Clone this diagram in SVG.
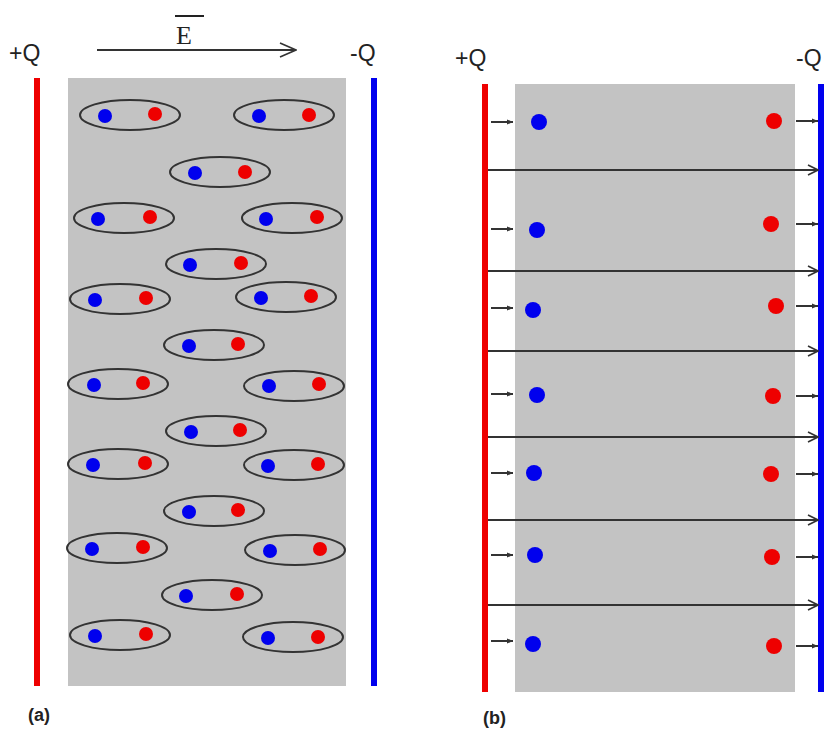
<svg xmlns="http://www.w3.org/2000/svg" width="827" height="731" viewBox="0 0 827 731">
<defs>
<style>
.lbl{font-family:"Liberation Sans",Arial,sans-serif;font-size:23px;fill:#222}
.cap{font-family:"Liberation Sans",Arial,sans-serif;font-size:18px;font-weight:bold;fill:#222}
.ell{fill:none;stroke:#333;stroke-width:2}
.b{fill:#0000ee}
.r{fill:#ee0000}
.ln{stroke:#333;stroke-width:2;fill:none}
</style>
<marker id="op" viewBox="0 0 12 12" refX="11" refY="6" markerWidth="12" markerHeight="12" markerUnits="userSpaceOnUse" orient="auto"><path d="M1,1 L11,6 L1,11" fill="none" stroke="#333" stroke-width="1.6"/></marker>
<marker id="sm" viewBox="0 0 8 8" refX="7" refY="4" markerWidth="7" markerHeight="7" markerUnits="userSpaceOnUse" orient="auto"><path d="M0,1 L7,4 L0,7 Z" fill="#333"/></marker>
<marker id="big" viewBox="0 0 20 20" refX="19" refY="10" markerWidth="20" markerHeight="20" markerUnits="userSpaceOnUse" orient="auto"><path d="M3,3 L19,10 L3,17" fill="none" stroke="#333" stroke-width="1.6"/></marker>
</defs>
<rect width="827" height="731" fill="#fff"/>
<g id="panel-a">
<rect x="68" y="78" width="278" height="608" fill="#c3c3c3"/>
<line x1="37" y1="78" x2="37" y2="686" stroke="#ee0000" stroke-width="6"/>
<line x1="374" y1="78" x2="374" y2="686" stroke="#0000ee" stroke-width="6"/>
<text class="lbl" x="9" y="61">+Q</text>
<text class="lbl" x="350" y="61">-Q</text>
<text x="176" y="44" style="font-family:'Liberation Serif',serif;font-size:26px;fill:#222">E</text>
<line x1="175" y1="16" x2="204" y2="16" stroke="#222" stroke-width="2"/>
<text class="cap" x="28" y="721">(a)</text>
</g>
<g id="panel-b">
<rect x="515" y="84" width="280" height="608" fill="#c3c3c3"/>
<line x1="485" y1="84" x2="485" y2="692" stroke="#ee0000" stroke-width="6"/>
<line x1="821" y1="84" x2="821" y2="692" stroke="#0000ee" stroke-width="6"/>
<text class="lbl" x="455" y="66">+Q</text>
<text class="lbl" x="796" y="66">-Q</text>
<text class="cap" x="483" y="724">(b)</text>
<g id="charges-b">
<circle class="b" cx="539" cy="122" r="8"/><circle class="r" cx="774" cy="121" r="8"/>
<circle class="b" cx="537" cy="230" r="8"/><circle class="r" cx="771" cy="224" r="8"/>
<circle class="b" cx="533" cy="310" r="8"/><circle class="r" cx="776" cy="306" r="8"/>
<circle class="b" cx="537" cy="395" r="8"/><circle class="r" cx="773" cy="396" r="8"/>
<circle class="b" cx="534" cy="473" r="8"/><circle class="r" cx="771" cy="474" r="8"/>
<circle class="b" cx="535" cy="555" r="8"/><circle class="r" cx="772" cy="557" r="8"/>
<circle class="b" cx="533" cy="644" r="8"/><circle class="r" cx="774" cy="646" r="8"/>
</g>
</g>
<g id="dipoles">
<g id="d1"><ellipse class="ell" cx="130" cy="115" rx="50" ry="15"/><circle class="b" cx="105" cy="116" r="7"/><circle class="r" cx="155" cy="114" r="7"/></g>
<g id="d2"><ellipse class="ell" cx="284" cy="115" rx="50" ry="15"/><circle class="b" cx="259" cy="116" r="7"/><circle class="r" cx="309" cy="115" r="7"/></g>
<g id="d3"><ellipse class="ell" cx="220" cy="172" rx="50" ry="15"/><circle class="b" cx="195" cy="173" r="7"/><circle class="r" cx="245" cy="172" r="7"/></g>
<g id="d4"><ellipse class="ell" cx="124" cy="218" rx="50" ry="15"/><circle class="b" cx="98" cy="219" r="7"/><circle class="r" cx="150" cy="217" r="7"/></g>
<g id="d5"><ellipse class="ell" cx="292" cy="218" rx="50" ry="15"/><circle class="b" cx="266" cy="219" r="7"/><circle class="r" cx="317" cy="217" r="7"/></g>
<g id="d6"><ellipse class="ell" cx="216" cy="264" rx="50" ry="15"/><circle class="b" cx="190" cy="265" r="7"/><circle class="r" cx="241" cy="263" r="7"/></g>
<g id="d7"><ellipse class="ell" cx="120" cy="299" rx="50" ry="15"/><circle class="b" cx="95" cy="300" r="7"/><circle class="r" cx="146" cy="298" r="7"/></g>
<g id="d8"><ellipse class="ell" cx="286" cy="297" rx="50" ry="15"/><circle class="b" cx="261" cy="298" r="7"/><circle class="r" cx="311" cy="296" r="7"/></g>
<g id="d9"><ellipse class="ell" cx="214" cy="345" rx="50" ry="15"/><circle class="b" cx="189" cy="346" r="7"/><circle class="r" cx="238" cy="344" r="7"/></g>
<g id="d10"><ellipse class="ell" cx="118" cy="384" rx="50" ry="15"/><circle class="b" cx="94" cy="385" r="7"/><circle class="r" cx="143" cy="383" r="7"/></g>
<g id="d11"><ellipse class="ell" cx="294" cy="386" rx="50" ry="15"/><circle class="b" cx="269" cy="386" r="7"/><circle class="r" cx="319" cy="384" r="7"/></g>
<g id="d12"><ellipse class="ell" cx="216" cy="431" rx="50" ry="15"/><circle class="b" cx="191" cy="432" r="7"/><circle class="r" cx="240" cy="430" r="7"/></g>
<g id="d13"><ellipse class="ell" cx="118" cy="464" rx="50" ry="15"/><circle class="b" cx="93" cy="465" r="7"/><circle class="r" cx="145" cy="463" r="7"/></g>
<g id="d14"><ellipse class="ell" cx="294" cy="465" rx="50" ry="15"/><circle class="b" cx="268" cy="466" r="7"/><circle class="r" cx="318" cy="464" r="7"/></g>
<g id="d15"><ellipse class="ell" cx="214" cy="511" rx="50" ry="15"/><circle class="b" cx="189" cy="512" r="7"/><circle class="r" cx="238" cy="510" r="7"/></g>
<g id="d16"><ellipse class="ell" cx="117" cy="548" rx="50" ry="15"/><circle class="b" cx="92" cy="549" r="7"/><circle class="r" cx="143" cy="547" r="7"/></g>
<g id="d17"><ellipse class="ell" cx="295" cy="550" rx="50" ry="15"/><circle class="b" cx="270" cy="551" r="7"/><circle class="r" cx="320" cy="549" r="7"/></g>
<g id="d18"><ellipse class="ell" cx="212" cy="595" rx="50" ry="15"/><circle class="b" cx="186" cy="596" r="7"/><circle class="r" cx="237" cy="594" r="7"/></g>
<g id="d19"><ellipse class="ell" cx="120" cy="635" rx="50" ry="15"/><circle class="b" cx="95" cy="636" r="7"/><circle class="r" cx="146" cy="634" r="7"/></g>
<g id="d20"><ellipse class="ell" cx="293" cy="637" rx="50" ry="15"/><circle class="b" cx="268" cy="638" r="7"/><circle class="r" cx="318" cy="637" r="7"/></g>
</g>
<g id="connectors">
<line class="ln" x1="97" y1="50" x2="296" y2="50" marker-end="url(#big)"/>
<g id="long-arrows">
<line class="ln" x1="488" y1="170" x2="818" y2="170" marker-end="url(#op)"/>
<line class="ln" x1="488" y1="271" x2="818" y2="271" marker-end="url(#op)"/>
<line class="ln" x1="488" y1="351" x2="818" y2="351" marker-end="url(#op)"/>
<line class="ln" x1="488" y1="437" x2="818" y2="437" marker-end="url(#op)"/>
<line class="ln" x1="488" y1="520" x2="818" y2="520" marker-end="url(#op)"/>
<line class="ln" x1="488" y1="605" x2="818" y2="605" marker-end="url(#op)"/>
</g>
<g id="short-arrows">
<line class="ln" x1="491" y1="122" x2="513" y2="122" marker-end="url(#sm)"/>
<line class="ln" x1="491" y1="229" x2="513" y2="229" marker-end="url(#sm)"/>
<line class="ln" x1="491" y1="308" x2="513" y2="308" marker-end="url(#sm)"/>
<line class="ln" x1="491" y1="394" x2="513" y2="394" marker-end="url(#sm)"/>
<line class="ln" x1="491" y1="473" x2="513" y2="473" marker-end="url(#sm)"/>
<line class="ln" x1="491" y1="555" x2="513" y2="555" marker-end="url(#sm)"/>
<line class="ln" x1="491" y1="641" x2="513" y2="641" marker-end="url(#sm)"/>
<line class="ln" x1="796" y1="121" x2="818" y2="121" marker-end="url(#sm)"/>
<line class="ln" x1="796" y1="224" x2="818" y2="224" marker-end="url(#sm)"/>
<line class="ln" x1="796" y1="306" x2="818" y2="306" marker-end="url(#sm)"/>
<line class="ln" x1="796" y1="396" x2="818" y2="396" marker-end="url(#sm)"/>
<line class="ln" x1="796" y1="474" x2="818" y2="474" marker-end="url(#sm)"/>
<line class="ln" x1="796" y1="557" x2="818" y2="557" marker-end="url(#sm)"/>
<line class="ln" x1="796" y1="646" x2="818" y2="646" marker-end="url(#sm)"/>
</g>
</g>
</svg>
